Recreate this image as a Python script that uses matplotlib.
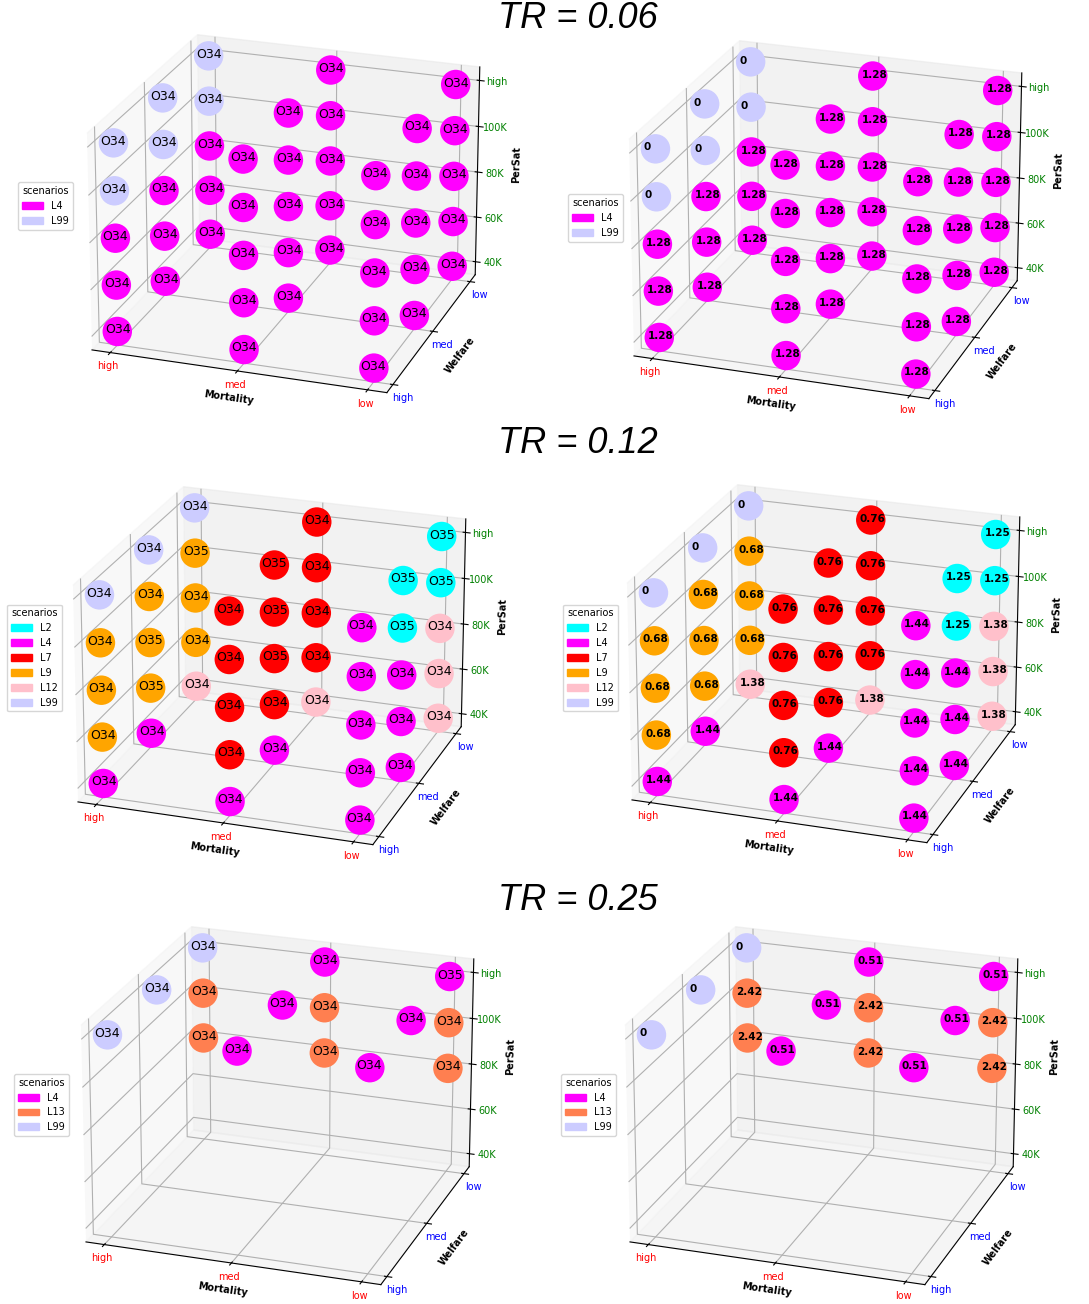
import matplotlib
matplotlib.use("Agg")
import matplotlib.pyplot as plt
import matplotlib.patches as mpatches

plt.rcParams['axes3d.automargin'] = True

mort_labels = ['high', 'med', 'low']
welf_labels = ['high', 'med', 'low']
sat_labels = ['40K', '60K', '80K', '100K', 'high']

colors = {'L2': '#00ffff', 'L4': '#ff00ff', 'L7': '#ff0000', 'L9': '#ffa500',
          'L12': '#ffc0cb', 'L13': '#ff7f50', 'L99': '#ccccff'}

# scen[mortality][welfare] -> scenario per PerSat level (40K..high), None = no point
scen_006 = [
    [['L4', 'L4', 'L4', 'L99', 'L99'], ['L4', 'L4', 'L4', 'L99', 'L99'], ['L4', 'L4', 'L4', 'L99', 'L99']],
    [['L4'] * 5, ['L4'] * 5, ['L4'] * 5],
    [['L4'] * 5, ['L4'] * 5, ['L4'] * 5],
]
out_006 = [[['O34'] * 5] * 3] * 3
val_006 = {'L4': '1.28', 'L99': '0'}

scen_012 = [
    [['L4', 'L9', 'L9', 'L9', 'L99'], ['L4', 'L9', 'L9', 'L9', 'L99'], ['L12', 'L9', 'L9', 'L9', 'L99']],
    [['L4', 'L7', 'L7', 'L7', 'L7'], ['L4', 'L7', 'L7', 'L7', 'L7'], ['L12', 'L7', 'L7', 'L7', 'L7']],
    [['L4', 'L4', 'L4', 'L4', 'L4'], ['L4', 'L4', 'L4', 'L2', 'L2'], ['L12', 'L12', 'L12', 'L2', 'L2']],
]
out_012 = [
    [['O34', 'O34', 'O34', 'O34', 'O34'], ['O34', 'O35', 'O35', 'O34', 'O34'], ['O34', 'O34', 'O34', 'O35', 'O34']],
    [['O34', 'O34', 'O34', 'O34', 'O34'], ['O34', 'O34', 'O35', 'O35', 'O35'], ['O34', 'O34', 'O34', 'O34', 'O34']],
    [['O34', 'O34', 'O34', 'O34', 'O34'], ['O34', 'O34', 'O34', 'O35', 'O35'], ['O34', 'O34', 'O34', 'O35', 'O35']],
]
val_012 = {'L2': '1.25', 'L4': '1.44', 'L7': '0.76', 'L9': '0.68', 'L12': '1.38', 'L99': '0'}

scen_025 = [
    [[None, None, None, None, 'L99'], [None, None, None, None, 'L99'], [None, None, 'L13', 'L13', 'L99']],
    [[None, None, None, None, 'L4'], [None, None, None, None, 'L4'], [None, None, 'L13', 'L13', 'L4']],
    [[None, None, None, None, 'L4'], [None, None, None, None, 'L4'], [None, None, 'L13', 'L13', 'L4']],
]
out_025 = [
    [['O34'] * 5, ['O34'] * 5, ['O34'] * 5],
    [['O34'] * 5, ['O34'] * 5, ['O34'] * 5],
    [['O34'] * 5, ['O34'] * 5, ['O34', 'O34', 'O34', 'O34', 'O35']],
]
val_025 = {'L4': '0.51', 'L13': '2.42', 'L99': '0'}

titles = ['TR = 0.06', 'TR = 0.12', 'TR = 0.25']
legend_order = [['L4', 'L99'], ['L2', 'L4', 'L7', 'L9', 'L12', 'L99'], ['L4', 'L13', 'L99']]
rows = [(scen_006, out_006, val_006), (scen_012, out_012, val_012), (scen_025, out_025, val_025)]

fig = plt.figure(figsize=(10.89, 13.04), dpi=100)
W, H = 1089.0, 1304.0

# pixel (left, top) of each panel's axes: [left panel, right panel]
panel_pos = [[(11, 12), (553, 18)], [(-3, 464), (551, 462)], [(5, 904), (549, 904)]]
panel_w, panel_h = 544, 400
title_base = [28, 453, 910]
leg_y = [(206, 218), (658, 658), (1105, 1105)]
leg_x = [(13, 563), (2, 558), (9, 556)]


def draw_panel(ax, scen, labels, leg, numeric, lx, ly):
    xs, ys, zs, cs, ts = [], [], [], [], []
    for i in range(3):
        for j in range(3):
            for k in range(5):
                s = scen[i][j][k]
                if s is None:
                    continue
                xs.append(i); ys.append(j); zs.append(k); cs.append(colors[s])
                ts.append(labels[s] if numeric else labels[i][j][k])
    ax.scatter(xs, ys, zs, c=cs, s=450, depthshade=False, alpha=1, zorder=1, linewidths=0)
    for x, y, z, t in zip(xs, ys, zs, ts):
        if numeric:
            ax.text(x - 0.09, y, z, t, ha='left', va='center', fontsize=7.5, fontweight='bold', zorder=5)
        else:
            ax.text(x - 0.1, y, z, t, ha='left', va='center', fontsize=9, zorder=5)
    ax.set_xlim(-0.1, 2.1)
    ax.set_ylim(-0.1, 2.1)
    ax.set_zlim(-0.2, 4.2)
    ax.set_proj_type('persp', focal_length=1.6)
    ax.set_box_aspect(None, zoom=1.185)
    ax.set_xticks(range(3))
    ax.set_xticklabels(mort_labels, color='red', fontsize=7)
    ax.set_yticks(range(3))
    ax.set_yticklabels(welf_labels, color='blue', fontsize=7)
    ax.set_zticks(range(5))
    ax.set_zticklabels(sat_labels, color='green', fontsize=7)
    ax.tick_params(axis='x', pad=-4)
    ax.tick_params(axis='y', pad=-3)
    ax.tick_params(axis='z', pad=-1)
    ax.set_xlabel('Mortality', fontsize=7, fontweight='bold', labelpad=-9)
    ax.set_ylabel('Welfare', fontsize=7, fontweight='bold', labelpad=-7)
    ax.set_zlabel('PerSat', fontsize=7, fontweight='bold', labelpad=-5)
    ax.zaxis.set_ticks_position('upper')
    ax.zaxis.set_label_position('upper')
    ax.view_init(elev=22, azim=-71)
    handles = [mpatches.Patch(color=colors[s], label=s) for s in leg]
    ax.legend(handles=handles, title='scenarios', fontsize=7, title_fontsize=7,
              loc='center left', bbox_to_anchor=(lx / W, 1 - ly / H),
              bbox_transform=fig.transFigure, handlelength=2.2)


for r, (scen, outs, vals) in enumerate(rows):
    for c in range(2):
        px, py = panel_pos[r][c]
        ax = fig.add_axes([px / W, 1 - (py + panel_h) / H, panel_w / W, panel_h / H],
                          projection='3d', computed_zorder=False)
        draw_panel(ax, scen, vals if c else outs, legend_order[r], c == 1,
                   leg_x[r][c], leg_y[r][c])
    fig.text(0.531, 1 - title_base[r] / H, titles[r], fontsize=26, style='italic',
             family='Liberation Sans', ha='center', va='baseline')

fig.savefig('out.png', dpi=100)
